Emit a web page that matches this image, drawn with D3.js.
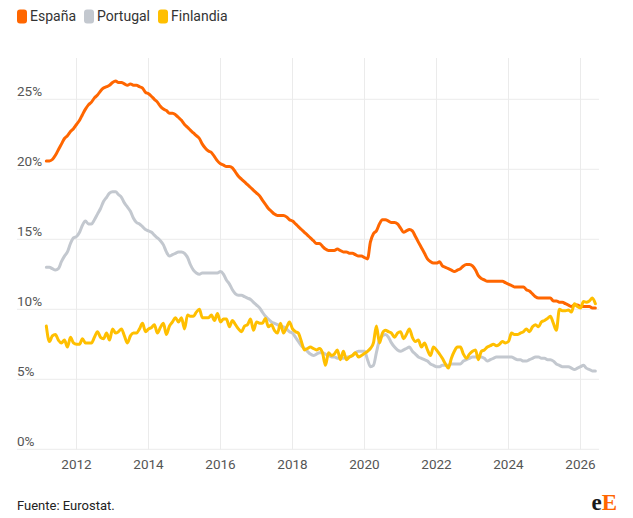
<!DOCTYPE html>
<html>
<head>
<meta charset="utf-8">
<script src="https://cdn.jsdelivr.net/npm/d3@7"></script>
<style>
  body { margin: 0; background: #fff; font-family: Roboto, "Noto Sans", sans-serif; }
  svg text { font-family: Roboto, "Noto Sans", sans-serif; }
  svg text.logo { font-family: "Liberation Serif", "DejaVu Serif", serif; font-weight: bold; }
</style>
</head>
<body>
<svg id="chart" width="633" height="518"></svg>
<script>
// monthly unemployment rate (%), from March 2011
const firstMonth = new Date(2011, 2, 1);

const espana = [
  20.6,20.6,20.7,21.0,21.4,21.8,22.2,22.4,22.7,22.9,
  23.2,23.5,23.9,24.3,24.6,24.8,25.1,25.3,25.6,25.8,25.9,26.0,
  26.2,26.3,26.2,26.2,26.1,26.0,26.1,26.0,26.0,25.9,25.8,25.5,
  25.4,25.2,25.0,24.8,24.5,24.3,24.2,24.0,24.0,23.9,23.7,23.5,
  23.2,23.0,22.8,22.6,22.4,22.2,21.8,21.5,21.3,21.2,20.9,20.6,
  20.4,20.3,20.2,20.2,20.1,19.8,19.5,19.3,19.1,18.9,18.7,18.5,
  18.3,18.1,17.8,17.5,17.2,17.0,16.8,16.7,16.7,16.7,16.6,16.4,
  16.3,16.1,15.9,15.7,15.5,15.3,15.1,14.9,14.7,14.7,14.5,14.3,
  14.2,14.2,14.2,14.3,14.2,14.1,14.1,14.0,14.0,13.9,13.8,13.8,
  13.7,13.6,14.8,15.4,15.6,16.1,16.4,16.4,16.3,16.2,16.2,16.1,
  15.8,15.5,15.6,15.7,15.6,15.2,14.8,14.4,14.0,13.6,13.4,13.3,
  13.3,13.4,13.1,13.0,12.9,12.8,12.7,12.8,12.9,13.1,13.2,13.2,
  13.1,12.8,12.4,12.2,12.1,12.0,12.0,12.0,12.0,12.0,12.0,11.9,
  11.8,11.7,11.6,11.6,11.6,11.6,11.4,11.3,11.1,10.9,10.8,10.8,
  10.8,10.8,10.8,10.6,10.6,10.5,10.5,10.4,10.3,10.2,10.3,10.3,
  10.2,10.2,10.2,10.2,10.1,10.1
];

const portugal = [
  13.0,13.0,12.9,12.8,12.9,13.4,13.8,14.1,14.7,15.1,
  15.2,15.5,16.0,16.3,16.1,16.1,16.4,16.8,17.2,17.7,18.0,18.3,
  18.4,18.4,18.2,18.0,17.6,17.3,17.0,16.5,16.2,16.1,15.9,15.7,
  15.6,15.5,15.3,15.1,14.9,14.6,14.1,13.8,13.9,14.0,14.1,14.1,
  14.0,13.7,13.2,12.8,12.6,12.5,12.6,12.6,12.6,12.6,12.6,12.6,
  12.7,12.5,12.1,11.8,11.4,11.1,11.0,11.0,10.9,10.8,10.7,10.5,
  10.3,10.1,9.8,9.5,9.3,9.1,9.0,8.9,8.8,8.75,8.6,8.4,
  8.3,8.0,7.7,7.4,7.2,7.0,6.8,6.7,6.8,6.9,6.9,6.8,
  6.7,6.6,6.6,6.5,6.5,6.5,6.6,6.6,6.7,6.9,7.0,7.0,
  7.0,6.4,5.9,6.0,6.9,7.8,8.1,8.2,8.0,7.6,7.3,7.1,
  7.0,7.1,7.2,7.3,7.0,6.8,6.6,6.5,6.4,6.3,6.1,6.0,
  5.9,5.9,6.0,6.0,6.0,6.1,6.1,6.1,6.1,6.3,6.4,6.5,
  6.6,6.6,6.6,6.6,6.5,6.3,6.4,6.5,6.6,6.6,6.6,6.6,
  6.6,6.6,6.5,6.4,6.4,6.3,6.3,6.4,6.5,6.6,6.6,6.5,
  6.5,6.4,6.4,6.3,6.1,6.0,5.9,5.9,5.9,5.8,5.7,5.8,
  5.9,6.0,5.8,5.7,5.6,5.6
];

const finlandia = [
  8.8,7.7,8.1,8.2,7.8,7.6,7.8,7.3,8.0,7.6,
  7.5,7.5,7.9,7.6,7.6,7.6,8.0,8.4,8.0,7.9,8.3,7.8,
  8.6,8.3,8.4,8.6,8.1,7.6,8.1,8.3,8.3,8.6,9.0,8.4,
  8.6,8.7,8.9,8.3,8.7,9.0,8.2,8.8,9.1,9.4,9.1,9.4,
  8.6,9.6,9.5,9.5,9.8,10.0,9.4,9.4,9.4,9.6,9.2,9.7,
  9.1,9.3,9.3,8.75,9.2,8.9,8.6,8.4,8.8,8.9,9.3,8.5,
  9.1,9.0,9.0,9.35,8.75,8.9,8.5,8.3,9.0,8.3,8.7,9.1,
  8.6,8.4,8.3,7.7,7.1,7.2,7.3,7.2,7.1,7.2,6.9,6.0,
  6.9,6.7,6.8,7.1,6.4,7.0,6.4,6.6,6.7,6.9,6.6,6.7,
  6.85,7.0,7.2,7.6,8.8,7.6,8.3,8.5,8.4,8.3,8.0,8.3,
  8.4,7.9,8.2,8.6,8.0,7.7,7.8,7.3,7.6,7.1,6.7,7.3,
  7.1,6.8,6.5,6.1,5.8,6.5,7.0,7.3,7.3,6.8,6.5,6.8,
  7.0,7.1,6.4,7.0,7.1,7.3,7.4,7.5,7.4,7.5,7.7,7.6,
  7.7,8.3,8.2,8.2,8.3,8.4,8.6,8.4,8.75,8.9,8.75,9.1,
  9.2,9.35,9.5,9.0,8.5,10.0,9.9,9.9,9.95,9.8,10.4,10.2,
  10.1,10.55,10.5,10.6,10.8,10.4
];

const seriesNames = ["España", "Portugal", "Finlandia"];
const seriesColors = ["#ff6600", "#c3c8cf", "#ffbf00"];
const yTicks = [0, 5, 10, 15, 20, 25];
const xTickYears = [2012, 2014, 2016, 2018, 2020, 2022, 2024, 2026];

const svg = d3.select("#chart");

// scales
const x = d3.scaleTime()
  .domain([new Date(2012, 0, 1), new Date(2026, 0, 1)])
  .range([76.5, 580.5]);
const y = d3.scaleLinear()
  .domain([0, 25])
  .range([449.3, 99.3]);

const gridLeft = 17, gridRight = 599, gridTop = 58;

// horizontal grid + y labels
const yg = svg.append("g");
yg.selectAll("line").data(yTicks).join("line")
  .attr("x1", gridLeft).attr("x2", gridRight)
  .attr("y1", d => y(d)).attr("y2", d => y(d))
  .attr("stroke", "#ebebeb").attr("stroke-width", 1);
yg.selectAll("text").data(yTicks).join("text")
  .attr("x", gridLeft).attr("y", d => y(d) - 3)
  .attr("font-size", 13.5).attr("fill", "#555")
  .text(d => d + "%");

// vertical grid + x labels
const xg = svg.append("g");
xg.selectAll("line").data(xTickYears).join("line")
  .attr("x1", d => x(new Date(d, 0, 1))).attr("x2", d => x(new Date(d, 0, 1)))
  .attr("y1", gridTop).attr("y2", y(0))
  .attr("stroke", "#ebebeb").attr("stroke-width", 1);
xg.selectAll("text").data(xTickYears).join("text")
  .attr("x", d => x(new Date(d, 0, 1))).attr("y", 469)
  .attr("text-anchor", "middle")
  .attr("font-size", 13.5).attr("fill", "#555")
  .text(d => d);

// lines
const monthDate = i => d3.timeMonth.offset(firstMonth, i);
const line = d3.line()
  .x((d, i) => x(monthDate(i)))
  .y(d => y(d))
  .curve(d3.curveMonotoneX);

[espana, portugal, finlandia].forEach(function(values, k) {
  svg.append("path")
    .datum(values)
    .attr("fill", "none")
    .attr("stroke", seriesColors[k])
    .attr("stroke-width", 3)
    .attr("stroke-linejoin", "round")
    .attr("stroke-linecap", "round")
    .attr("d", line);
});

// legend
const legend = svg.append("g");
let lx = 17;
seriesNames.forEach(function(name, k) {
  legend.append("rect")
    .attr("x", lx).attr("y", 9.5)
    .attr("width", 10).attr("height", 14).attr("rx", 3)
    .attr("fill", seriesColors[k]);
  const t = legend.append("text")
    .attr("x", lx + 13).attr("y", 21)
    .attr("font-size", 14).attr("fill", "#333")
    .text(name);
  lx += 13 + t.node().getComputedTextLength() + 8;
});

// footer
svg.append("text")
  .attr("x", 17).attr("y", 510)
  .attr("font-size", 13).attr("fill", "#222")
  .text("Fuente: Eurostat.");

const logo = svg.append("text")
  .attr("class", "logo")
  .attr("x", 617).attr("y", 510)
  .attr("text-anchor", "end")
  .attr("font-size", 23);
logo.append("tspan").attr("fill", "#1a1a1a").text("e");
logo.append("tspan").attr("fill", "#ff6600").text("E");
</script>
</body>
</html>
